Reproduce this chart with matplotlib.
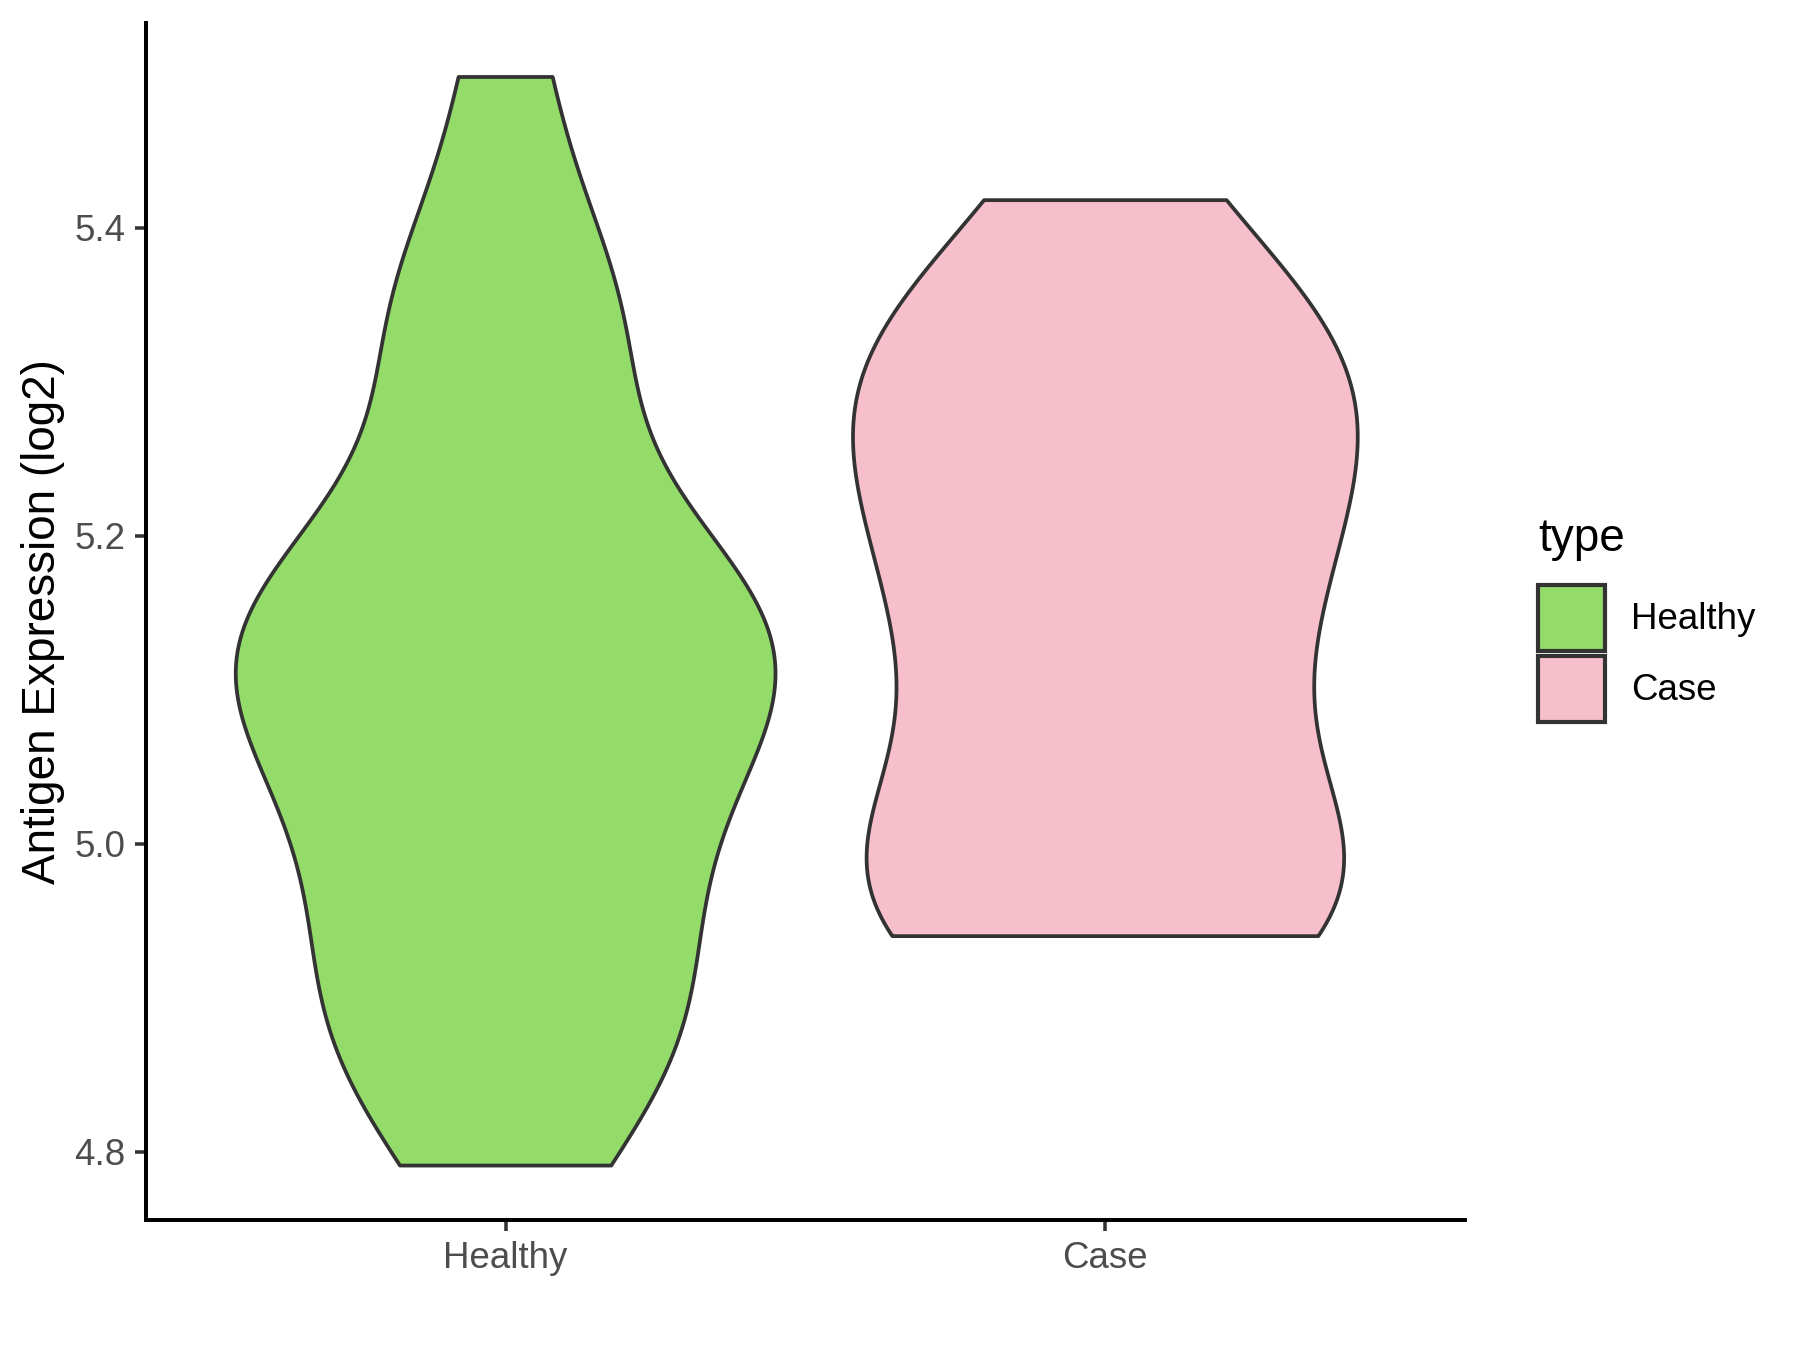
import numpy as np
import matplotlib
matplotlib.use("Agg")
import matplotlib.pyplot as plt
from matplotlib.patches import Patch

plt.rcParams['font.family'] = ['Liberation Sans', 'DejaVu Sans']

# sample values per group (estimated from the violin outlines)
groups = ["Healthy", "Case"]
healthy = [4.791, 4.847, 4.872, 4.899, 4.907, 4.991, 4.991, 5.021, 5.102, 5.102,
           5.111, 5.113, 5.122, 5.162, 5.190, 5.191, 5.341, 5.341, 5.341, 5.498]
case = [4.940, 4.965, 4.967, 4.967, 4.968, 5.042, 5.131, 5.149, 5.150, 5.230,
        5.260, 5.264, 5.326, 5.327, 5.329, 5.418]
colors = ["#93DC6A", "#F7BFCB"]
yticks = [4.8, 5.0, 5.2, 5.4]


def bw_nrd0(x):
    # same rule as R's default bandwidth
    x = np.asarray(x)
    sd = x.std(ddof=1)
    iqr = np.subtract(*np.percentile(x, [75, 25]))
    return 0.9 * min(sd, iqr / 1.34) * len(x) ** -0.2


def kde(x, grid):
    x = np.asarray(x)
    h = bw_nrd0(x)
    z = (grid[:, None] - x[None, :]) / h
    return np.exp(-0.5 * z ** 2).sum(axis=1) / (len(x) * h * np.sqrt(2 * np.pi))


fig = plt.figure(figsize=(6, 4.5), dpi=300)
ax = fig.add_axes([0.081, 0.0963, 0.733, 0.887])

# trimmed densities, scaled by area (common max)
dens = []
for vals in [healthy, case]:
    g = np.linspace(min(vals), max(vals), 512)
    dens.append((g, kde(vals, g)))
dmax = max(d.max() for _, d in dens)

for i, (g, d) in enumerate(dens):
    w = d / dmax * 0.45
    xs = np.concatenate([i + 1 - w, (i + 1 + w)[::-1]])
    ys = np.concatenate([g, g[::-1]])
    ax.fill(xs, ys, facecolor=colors[i], edgecolor="#333333", linewidth=0.9,
            joinstyle="round")

ax.set_xlim(0.4, 2.6)
lo = min(min(healthy), min(case))
hi = max(max(healthy), max(case))
pad = (hi - lo) * 0.05
ax.set_ylim(lo - pad, hi + pad)
ax.set_xticks([1, 2])
ax.set_xticklabels(groups)
ax.set_yticks(yticks)
ax.set_yticklabels([f"{t:.1f}" for t in yticks])
ax.set_ylabel("Antigen Expression (log2)", fontsize=11, color="black", labelpad=2.2)
for s in ["top", "right"]:
    ax.spines[s].set_visible(False)
for s in ["left", "bottom"]:
    ax.spines[s].set_linewidth(0.95)
ax.tick_params(length=2.75, width=0.85, color="#333333", labelsize=8.8,
               labelcolor="#4D4D4D", pad=2.2)

handles = [Patch(facecolor=c, edgecolor="#333333", linewidth=1.0, label=l)
           for c, l in zip(colors, groups)]
fig.legend(handles=handles, loc="upper left", bbox_to_anchor=(0.8546, 0.567),
           frameon=False, fontsize=8.8, handlelength=1.82, handleheight=2.42,
           labelspacing=0.12, handletextpad=0.7, borderpad=0, borderaxespad=0)
fig.text(0.8546, 0.6004, "type", fontsize=11, ha="left", va="center")

fig.savefig("out.png", dpi=300)
